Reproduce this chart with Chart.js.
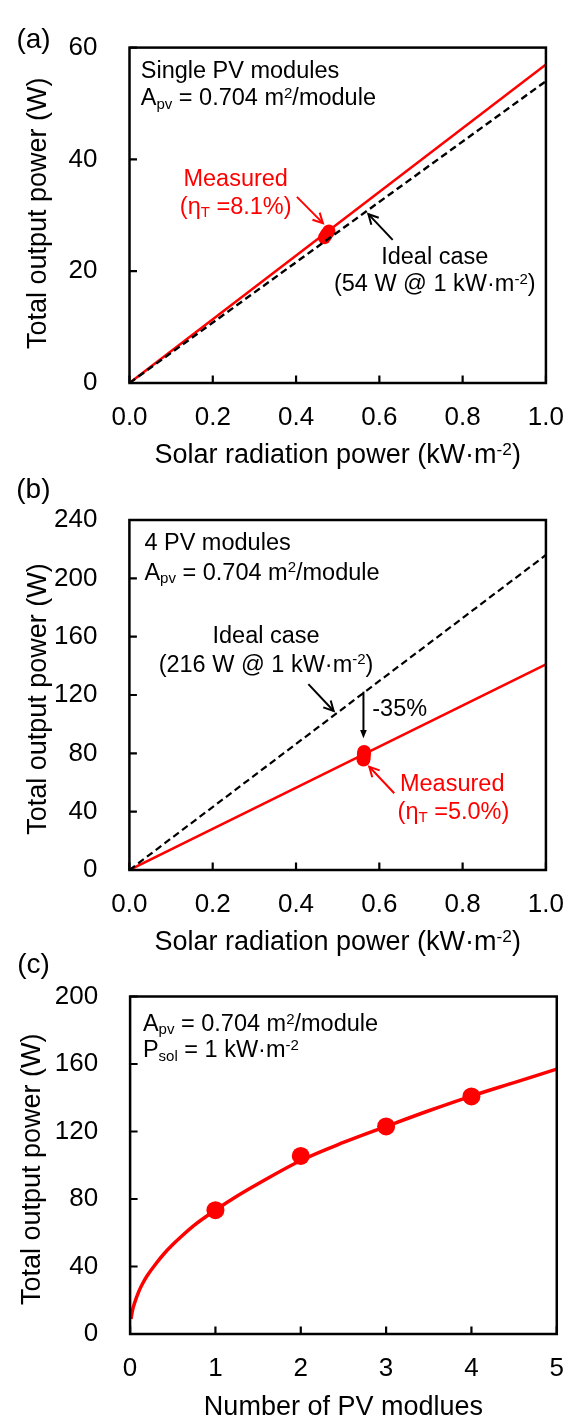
<!DOCTYPE html>
<html lang="en">
<head>
<meta charset="UTF-8">
<title>PV module output power</title>
<script src="https://cdn.jsdelivr.net/npm/chart.js"></script>
<style>
    html, body { margin: 0; padding: 0; background: #fff; }
    body { width: 583px; height: 1417px; position: relative; overflow: hidden; }
    canvas { position: absolute; left: 0; }
</style>
</head>
<body>
<canvas id="chartA" width="583" height="480" style="top:0px"></canvas>
<canvas id="chartB" width="583" height="490" style="top:470px"></canvas>
<canvas id="chartC" width="583" height="472" style="top:945px"></canvas>

<script>
// (a) single module: ideal line, fitted line and measured points
const radiation = [0, 1];
const idealSingle = [0, 54];
const fitSingle = [0, 57];
const measSingleX = [0.468, 0.471, 0.473, 0.476, 0.479];
const measSingleY = [26.0, 26.3, 26.6, 26.9, 27.2];

// (b) four modules
const idealFour = [0, 216];
const fitFour = [0, 141];
const measFourX = [0.562, 0.5625, 0.563, 0.5635];
const measFourY = [75.7, 77.5, 79.2, 81.0];

// (c) output vs number of modules
const moduleCount = [1, 2, 3, 4];
const moduleOutput = [73.4, 105.5, 123, 140.8];
const fitCount = [0.01, 0.03, 0.05, 0.1, 0.15, 0.2, 0.3, 0.4, 0.5, 0.6, 0.75, 1, 1.25, 1.5, 2, 2.5, 3, 3.5, 4, 4.5, 5];
const fitOutput = [9, 14.5, 18, 25, 30.2, 34.5, 41.5, 47.7, 53, 57.8, 64.4, 73.4, 81.6, 89, 102.8, 113.5, 123, 132.3, 141, 149, 157];

// axis ticks
const radTicks = [0, 0.2, 0.4, 0.6, 0.8, 1.0];
const wattTicksA = [0, 20, 40, 60];
const wattTicksB = [0, 40, 80, 120, 160, 200, 240];
const countTicks = [0, 1, 2, 3, 4, 5];
const wattTicksC = [0, 40, 80, 120, 160, 200];

const FONT = '"Liberation Sans", Arial, sans-serif';
const RED = '#ff0000';

const APV = [['A'], ['pv', 'sub'], [' = 0.704 m'], ['2', 'sup'], ['/module']];
const RAD_TITLE = [['Solar radiation power (kW\u00b7m'], ['-2', 'sup'], [')']];
const Y_TITLE = [['Total output power (W)']];

function pts(xs, ys) {
    return xs.map((x, i) => ({ x: x, y: ys[i] }));
}

// draws a line of text made of plain / sub / sup runs, y = middle of capitals
function drawRuns(ctx, runs, x, y, size, align, color) {
    const parts = runs.map(([t, k]) => {
        const s = k ? size * 0.64 : size;
        ctx.font = s + 'px ' + FONT;
        return { t: t, k: k, s: s, w: ctx.measureText(t).width };
    });
    const total = parts.reduce((a, p) => a + p.w, 0);
    let cx = align === 'center' ? x - total / 2 : align === 'right' ? x - total : x;
    const base = y + size * 0.36;
    ctx.fillStyle = color;
    ctx.textAlign = 'left';
    ctx.textBaseline = 'alphabetic';
    parts.forEach(p => {
        ctx.font = p.s + 'px ' + FONT;
        const off = p.k === 'sub' ? size * 0.16 : p.k === 'sup' ? -size * 0.3 : 0;
        ctx.fillText(p.t, cx, base + off);
        cx += p.w;
    });
}

function drawArrow(ctx, x1, y1, x2, y2, color, solid) {
    const a = Math.atan2(y2 - y1, x2 - x1);
    const L = solid ? 9 : 11, s = solid ? 0.38 : 0.48;
    ctx.strokeStyle = color;
    ctx.fillStyle = color;
    ctx.lineWidth = 2;
    ctx.setLineDash([]);
    ctx.beginPath();
    ctx.moveTo(x1, y1);
    ctx.lineTo(solid ? x2 - Math.cos(a) * L * 0.8 : x2, solid ? y2 - Math.sin(a) * L * 0.8 : y2);
    ctx.stroke();
    ctx.beginPath();
    ctx.moveTo(x2 - L * Math.cos(a - s), y2 - L * Math.sin(a - s));
    ctx.lineTo(x2, y2);
    ctx.lineTo(x2 - L * Math.cos(a + s), y2 - L * Math.sin(a + s));
    if (solid) { ctx.closePath(); ctx.fill(); } else { ctx.stroke(); }
}

// frame, inward tick marks, titles and notes
const decor = {
    id: 'decor',
    afterDatasetsDraw(chart, args, opts) {
        const ctx = chart.ctx;
        const area = chart.chartArea;
        const xs = chart.scales.x, ys = chart.scales.y;
        ctx.save();
        ctx.strokeStyle = '#000';
        ctx.lineWidth = 2.2;
        ctx.setLineDash([]);
        ctx.beginPath();
        xs.ticks.forEach(t => {
            const px = xs.getPixelForValue(t.value);
            ctx.moveTo(px, area.bottom);
            ctx.lineTo(px, area.bottom - 7.5);
        });
        ys.ticks.forEach(t => {
            const py = ys.getPixelForValue(t.value);
            ctx.moveTo(area.left, py);
            ctx.lineTo(area.left + 7.5, py);
        });
        ctx.stroke();
        ctx.lineWidth = 2.5;
        ctx.strokeRect(area.left, area.top, area.right - area.left, area.bottom - area.top);

        const cxm = (area.left + area.right) / 2, cym = (area.top + area.bottom) / 2;
        drawRuns(ctx, [[opts.tag]], area.left + opts.tagDx, area.top + opts.tagDy, 28, 'center', '#000');
        drawRuns(ctx, opts.xTitle, cxm, area.bottom + opts.xTitleDy, 27, 'center', '#000');
        ctx.save();
        ctx.translate(opts.yTitleX, cym + opts.yTitleDy);
        ctx.rotate(-Math.PI / 2);
        drawRuns(ctx, Y_TITLE, 0, 0, 27, 'center', '#000');
        ctx.restore();

        opts.notes.forEach(n => {
            drawRuns(ctx, n.runs, xs.getPixelForValue(n.x), ys.getPixelForValue(n.y), 23.5, n.align, n.color);
        });
        opts.arrows.forEach(a => {
            drawArrow(ctx, xs.getPixelForValue(a.from[0]), ys.getPixelForValue(a.from[1]),
                xs.getPixelForValue(a.to[0]), ys.getPixelForValue(a.to[1]), a.color, a.solid);
        });
        ctx.restore();
    }
};

function makeChart(id, cfg) {
    const tickFont = { family: FONT, size: 26 };
    new Chart(document.getElementById(id), {
        type: 'line',
        data: { datasets: cfg.datasets },
        options: {
            responsive: false,
            animation: false,
            events: [],
            layout: { padding: { top: cfg.top, right: 583 - cfg.right, left: 0, bottom: 0 } },
            scales: {
                x: {
                    type: 'linear', min: cfg.xTicks[0], max: cfg.xTicks[cfg.xTicks.length - 1],
                    afterBuildTicks: s => { s.ticks = cfg.xTicks.map(v => ({ value: v })); },
                    afterFit: s => { s.height = cfg.bottomSpace; },
                    grid: { display: false, drawTicks: false },
                    border: { display: false },
                    ticks: { font: tickFont, color: '#000', padding: 19, maxRotation: 0,
                        callback: cfg.xFormat }
                },
                y: {
                    min: cfg.yTicks[0], max: cfg.yTicks[cfg.yTicks.length - 1],
                    afterBuildTicks: s => { s.ticks = cfg.yTicks.map(v => ({ value: v })); },
                    afterFit: s => { s.width = cfg.left; },
                    grid: { display: false, drawTicks: false },
                    border: { display: false },
                    ticks: { font: tickFont, color: '#000', padding: 32, callback: v => String(v) }
                }
            },
            plugins: {
                legend: { display: false },
                tooltip: { enabled: false },
                decor: cfg.decor
            }
        },
        plugins: [decor]
    });
}

function straight(xs, ys, color, dash, width) {
    return { data: pts(xs, ys), borderColor: color, borderWidth: width, borderDash: dash,
        pointRadius: 0, fill: false, tension: 0 };
}
function dots(xs, ys, r) {
    return { type: 'scatter', data: pts(xs, ys), backgroundColor: RED, borderColor: RED,
        borderWidth: 0, pointRadius: r, showLine: false };
}

makeChart('chartA', {
    top: 32.5, right: 557.5, left: 129.5, bottomSpace: 97,
    xTicks: radTicks, yTicks: wattTicksA, xFormat: v => Number(v).toFixed(1),
    datasets: [
        straight(radiation, idealSingle, '#000', [7, 4], 2.4),
        straight(radiation, fitSingle, RED, [], 2.5),
        dots(measSingleX, measSingleY, 6.5)
    ],
    decor: {
        tag: '(a)', tagDx: -96, tagDy: -9.5,
        xTitle: RAD_TITLE, xTitleDy: 70, yTitleX: 36, yTitleDy: -2,
        notes: [
            { x: 0.027, y: 56.1, runs: [['Single PV modules']], align: 'left', color: '#000' },
            { x: 0.027, y: 51.2, runs: APV, align: 'left', color: '#000' },
            { x: 0.255, y: 36.8, runs: [['Measured']], align: 'center', color: RED },
            { x: 0.255, y: 31.8, runs: [['(\u03b7'], ['T', 'sub'], [' =8.1%)']], align: 'center', color: RED },
            { x: 0.733, y: 22.8, runs: [['Ideal case']], align: 'center', color: '#000' },
            { x: 0.733, y: 17.9, runs: [['(54 W @ 1 kW\u00b7m'], ['-2', 'sup'], [')']], align: 'center', color: '#000' }
        ],
        arrows: [
            { from: [0.402, 33.3], to: [0.4645, 28.6], color: RED },
            { from: [0.632, 25.6], to: [0.5736, 30.2], color: '#000' }
        ]
    }
});

makeChart('chartB', {
    top: 50, right: 557.6, left: 129.4, bottomSpace: 90,
    xTicks: radTicks, yTicks: wattTicksB, xFormat: v => Number(v).toFixed(1),
    datasets: [
        straight(radiation, idealFour, '#000', [7, 4], 2.2),
        straight(radiation, fitFour, RED, [], 2.5),
        dots(measFourX, measFourY, 7)
    ],
    decor: {
        tag: '(b)', tagDx: -96, tagDy: -32,
        xTitle: RAD_TITLE, xTitleDy: 70, yTitleX: 36, yTitleDy: 4,
        notes: [
            { x: 0.036, y: 224.9, runs: [['4 PV modules']], align: 'left', color: '#000' },
            { x: 0.036, y: 205.0, runs: APV, align: 'left', color: '#000' },
            { x: 0.328, y: 161.8, runs: [['Ideal case']], align: 'center', color: '#000' },
            { x: 0.328, y: 141.9, runs: [['(216 W @ 1 kW\u00b7m'], ['-2', 'sup'], [')']], align: 'center', color: '#000' },
            { x: 0.583, y: 111.1, runs: [['-35%']], align: 'left', color: '#000' },
            { x: 0.775, y: 60.3, runs: [['Measured']], align: 'center', color: RED },
            { x: 0.778, y: 41.1, runs: [['(\u03b7'], ['T', 'sub'], [' =5.0%)']], align: 'center', color: RED }
        ],
        arrows: [
            { from: [0.4297, 127.5], to: [0.4904, 109.0], color: '#000' },
            { from: [0.5619, 122.3], to: [0.5619, 90.3], color: '#000', solid: true },
            { from: [0.6359, 52.6], to: [0.5759, 70.8], color: RED }
        ]
    }
});

makeChart('chartC', {
    top: 51.5, right: 558.7, left: 130.1, bottomSpace: 83,
    xTicks: countTicks, yTicks: wattTicksC, xFormat: v => String(v),
    datasets: [
        { data: pts(fitCount, fitOutput), borderColor: RED, borderWidth: 3.5, pointRadius: 0,
            fill: false, cubicInterpolationMode: 'monotone' },
        dots(moduleCount, moduleOutput, 9)
    ],
    decor: {
        tag: '(c)', tagDx: -96.5, tagDy: -33.5,
        xTitle: [['Number of PV modlues']], xTitleDy: 71, yTitleX: 30, yTitleDy: 4,
        notes: [
            { x: 0.15, y: 184.8, runs: APV, align: 'left', color: '#000' },
            { x: 0.15, y: 169.1, runs: [['P'], ['sol', 'sub'], [' = 1 kW\u00b7m'], ['-2', 'sup']], align: 'left', color: '#000' }
        ],
        arrows: []
    }
});
</script>
</body>
</html>
